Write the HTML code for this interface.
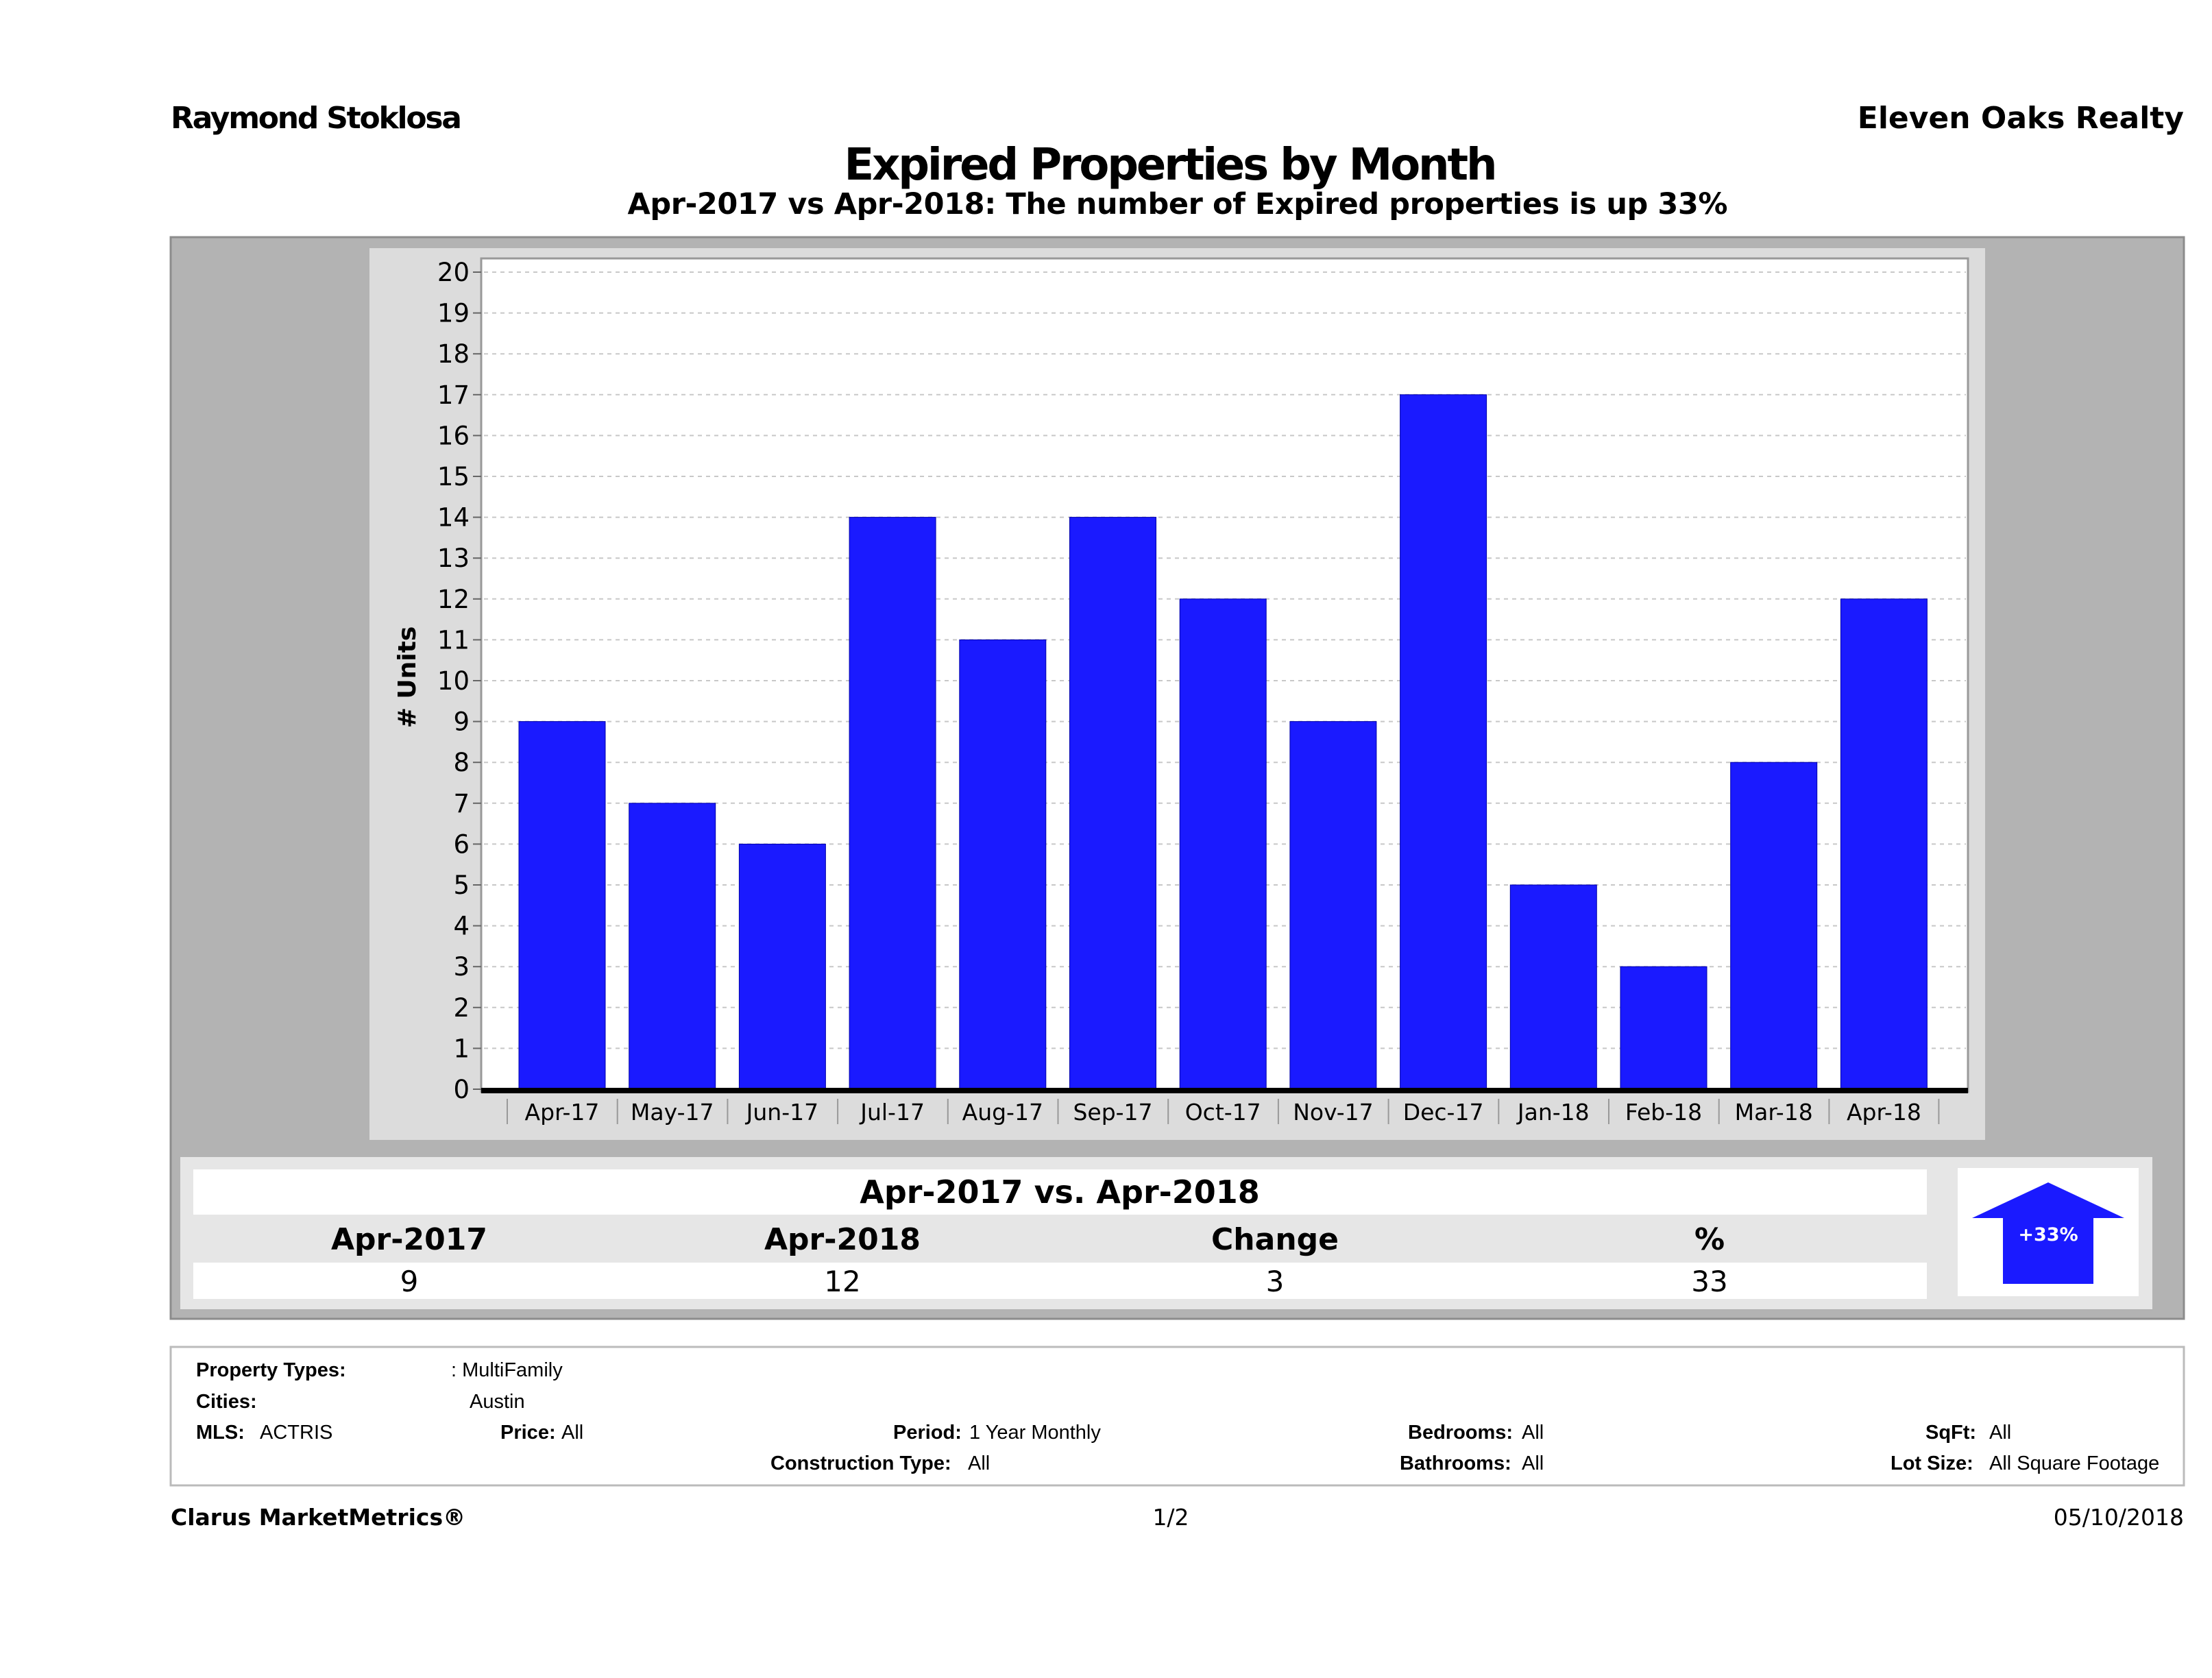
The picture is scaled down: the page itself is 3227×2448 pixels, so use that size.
<!DOCTYPE html>
<html><head><meta charset="utf-8"><style>
html,body{margin:0;padding:0;background:#fff}
svg{display:block}
text{font-family:"DejaVu Sans","Liberation Sans",sans-serif}
.info text{font-family:"Liberation Sans","DejaVu Sans",sans-serif}
</style></head><body>
<svg id="chart" width="3227" height="2448" viewBox="0 0 3227 2448" xmlns="http://www.w3.org/2000/svg">
<text x="249" y="187" font-size="44" font-weight="bold" textLength="425">Raymond Stoklosa</text>
<text x="3186" y="187" font-size="44" font-weight="bold" text-anchor="end">Eleven Oaks Realty</text>
<text x="1708" y="262" font-size="64" font-weight="bold" text-anchor="middle" textLength="953">Expired Properties by Month</text>
<text x="1718" y="312" font-size="43" font-weight="bold" text-anchor="middle" textLength="1605">Apr-2017 vs Apr-2018: The number of Expired  properties is up 33%</text>

<rect x="249" y="346" width="2937" height="1578" fill="#b3b3b3" stroke="#8c8c8c" stroke-width="3"/>
<rect x="539" y="362" width="2357" height="1301" fill="#dcdcdc"/>
<rect x="702" y="377" width="2169" height="1216" fill="#fff" stroke="#999" stroke-width="3"/>
<g id="grid"></g><g id="bars"></g><g id="yticks"></g><g id="xticks"></g>
<rect x="702" y="1587" width="2169" height="8" fill="#000"/>
<text transform="translate(606,988) rotate(-90)" font-size="36" font-weight="bold" text-anchor="middle"># Units</text>

<rect x="263" y="1688" width="2877" height="222" fill="#e6e6e6"/>
<rect x="282" y="1706" width="2529" height="66" fill="#fff"/>
<text x="1546" y="1755" font-size="46" font-weight="bold" text-anchor="middle">Apr-2017 vs. Apr-2018</text>
<g font-size="44" font-weight="bold" text-anchor="middle">
<text x="597" y="1823">Apr-2017</text>
<text x="1229" y="1823">Apr-2018</text>
<text x="1860" y="1823">Change</text>
<text x="2494" y="1823">%</text>
</g>
<rect x="282" y="1842" width="2529" height="53" fill="#fff"/>
<g font-size="42" text-anchor="middle">
<text x="597" y="1884">9</text>
<text x="1229" y="1884">12</text>
<text x="1860" y="1884">3</text>
<text x="2494" y="1884">33</text>
</g>
<rect x="2856" y="1704" width="264" height="187" fill="#fff"/>
<polygon points="2988,1725 3099,1777 3054,1777 3054,1873 2922,1873 2922,1777 2877,1777" fill="#1a1aff"/>
<text x="2988" y="1810" font-size="27" font-weight="bold" fill="#fff" text-anchor="middle">+33%</text>

<rect x="249" y="1965" width="2937" height="202" fill="#fff" stroke="#bbb" stroke-width="3"/>
<g class="info" font-size="29">
<text x="286" y="2008" font-weight="bold">Property Types:</text><text x="658" y="2008">: MultiFamily</text>
<text x="286" y="2054" font-weight="bold">Cities:</text><text x="685" y="2054">Austin</text>
<text x="286" y="2099" font-weight="bold">MLS:</text><text x="379" y="2099">ACTRIS</text>
<text x="730" y="2099" font-weight="bold">Price:</text><text x="819" y="2099">All</text>
<text x="1303" y="2099" font-weight="bold">Period:</text><text x="1414" y="2099">1 Year Monthly</text>
<text x="2054" y="2099" font-weight="bold">Bedrooms:</text><text x="2220" y="2099">All</text>
<text x="2809" y="2099" font-weight="bold">SqFt:</text><text x="2902" y="2099">All</text>
<text x="1124" y="2144" font-weight="bold">Construction Type:</text><text x="1412" y="2144">All</text>
<text x="2042" y="2144" font-weight="bold">Bathrooms:</text><text x="2220" y="2144">All</text>
<text x="2758" y="2144" font-weight="bold">Lot Size:</text><text x="2902" y="2144">All Square Footage</text>
</g>
<text x="249" y="2225" font-size="33" font-weight="bold">Clarus MarketMetrics®</text>
<text x="1708" y="2225" font-size="33" text-anchor="middle">1/2</text>
<text x="3186" y="2225" font-size="33" text-anchor="end">05/10/2018</text>
</svg>
<script>
const categories=["Apr-17","May-17","Jun-17","Jul-17","Aug-17","Sep-17","Oct-17","Nov-17","Dec-17","Jan-18","Feb-18","Mar-18","Apr-18"];
const values=[9,7,6,14,11,14,12,9,17,5,3,8,12];
const yTicks=[0,1,2,3,4,5,6,7,8,9,10,11,12,13,14,15,16,17,18,19,20];
const NS="http://www.w3.org/2000/svg";
const Y0=1589,Y20=397,yMax=20;
function yScale(v){return Y0-(Y0-Y20)*v/yMax;}
const X0=820,STEP=160.7,BW=126;
function xScale(i){return X0+i*STEP;}
function mk(tag,attrs,parent){const e=document.createElementNS(NS,tag);for(const k in attrs)e.setAttribute(k,attrs[k]);parent.appendChild(e);return e;}
const grid=document.getElementById('grid'),bars=document.getElementById('bars'),yt=document.getElementById('yticks'),xt=document.getElementById('xticks');
yTicks.forEach(v=>{
  const y=yScale(v);
  if(v>0){const g=mk('line',{x1:706,x2:2868,y1:y,y2:y,stroke:'#c8c8c8','stroke-width':2,'stroke-dasharray':'6,6'},grid);
  
  }
  const t=mk('line',{x1:690,x2:702,y1:y,y2:y,stroke:'#666','stroke-width':2},yt);
  
  
  const l=mk('text',{x:685,y:y+13,'font-size':37,'text-anchor':'end'},yt);
  l.textContent=v;
  
  
});
categories.forEach((c,i)=>{
  const cx=xScale(i),y=yScale(values[i]);
  const b=mk('rect',{x:cx-BW/2,y:y,width:BW,height:Y0-y,fill:'#1a1aff',stroke:'#0000aa','stroke-width':1},bars);
  
  
  const s=mk('line',{x1:cx-80,x2:cx-80,y1:1603,y2:1640,stroke:'#999','stroke-width':2},xt);
  
  
  const l=mk('text',{x:cx,y:1634,'font-size':33,'text-anchor':'middle'},xt);
  l.textContent=c;
  
  
});
const last=mk('line',{x1:xScale(categories.length-1)+80,x2:xScale(categories.length-1)+80,y1:1603,y2:1640,stroke:'#999','stroke-width':2},xt);


</script>
</body></html>
